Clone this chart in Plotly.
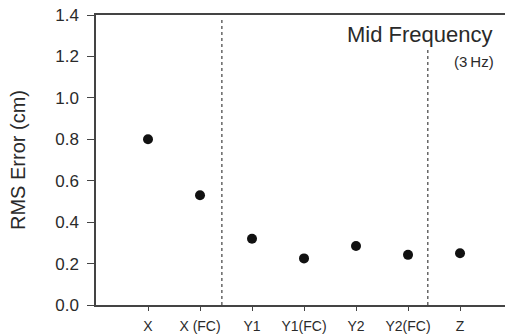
import plotly.graph_objects as go

categories = ["X", "X (FC)", "Y1", "Y1(FC)", "Y2", "Y2(FC)", "Z"]
rms_error = [0.80, 0.53, 0.32, 0.225, 0.285, 0.242, 0.25]
y_ticks = [0.0, 0.2, 0.4, 0.6, 0.8, 1.0, 1.2, 1.4]
y_tick_labels = ["0.0", "0.2", "0.4", "0.6", "0.8", "1.0", "1.2", "1.4"]
divider_positions = [1.42, 5.38]
divider_tops = [1.38, 1.24]

xpos = list(range(len(categories)))

fig = go.Figure()
fig.add_trace(go.Scatter(
    x=xpos, y=rms_error, mode="markers",
    marker=dict(color="#111111", size=10),
    showlegend=False, hoverinfo="skip",
))

for xp, top in zip(divider_positions, divider_tops):
    fig.add_shape(type="line", xref="x", yref="y", x0=xp, x1=xp, y0=0, y1=top,
                  line=dict(color="#666666", width=1.5, dash="dot"))

font_family = "Liberation Sans, Arial, sans-serif"

fig.add_annotation(text="Mid Frequency", xref="paper", yref="paper", x=1, y=1,
                   xanchor="right", yanchor="top", xshift=-10, yshift=-5,
                   showarrow=False, font=dict(family=font_family, size=22, color="#2a2a2a"))
fig.add_annotation(text="(3\u2009Hz)", xref="paper", yref="paper", x=1, y=1,
                   xanchor="right", yanchor="top", xshift=-9, yshift=-36,
                   showarrow=False, font=dict(family=font_family, size=15, color="#2a2a2a"))

fig.update_layout(
    width=505, height=335,
    margin=dict(l=96, r=0, t=15, b=30),
    paper_bgcolor="white", plot_bgcolor="white",
    font=dict(family=font_family, color="#2a2a2a"),
)
fig.update_xaxes(
    range=[-1, 6.865], tickvals=xpos, ticktext=categories,
    showline=True, linecolor="#444444", linewidth=1.5, mirror=True,
    ticks="outside", ticklen=4, tickcolor="#444444", showgrid=False, zeroline=False,
    tickfont=dict(size=14, color="#2a2a2a"), ticklabelstandoff=3,
)
fig.update_yaxes(
    range=[0, 1.4], tickvals=y_ticks, ticktext=y_tick_labels,
    showline=True, linecolor="#444444", linewidth=1.5, mirror=False,
    ticks="outside", ticklen=7, tickcolor="#444444", showgrid=False, zeroline=False,
    tickfont=dict(size=17, color="#2a2a2a"), ticklabelstandoff=5,
    title=dict(text="RMS Error (cm)", font=dict(size=20, color="#2a2a2a"), standoff=24),
)

fig.write_html("out.html", post_script="document.body.style.margin='0';",
               config={"displayModeBar": False})
